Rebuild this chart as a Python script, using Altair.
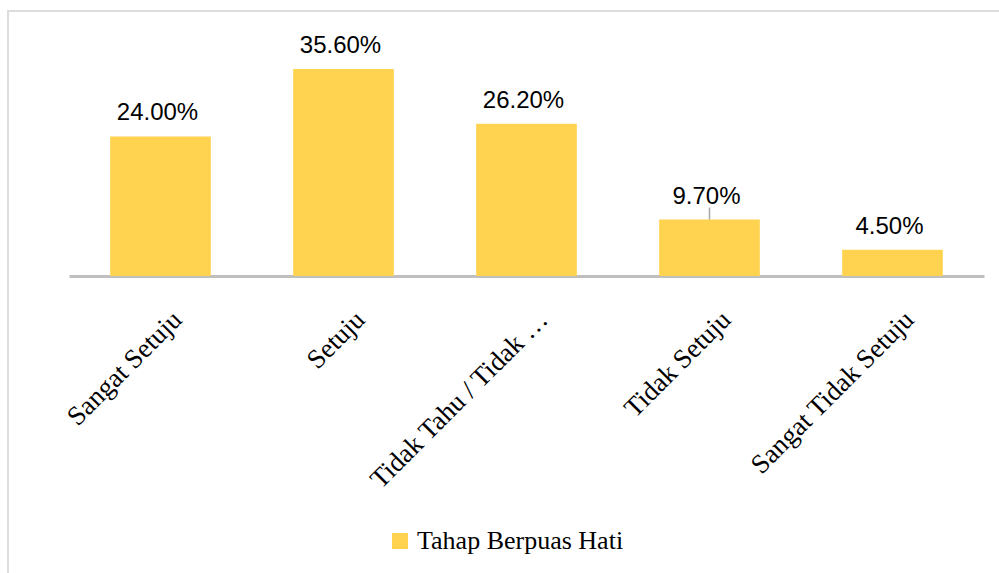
import altair as alt
import pandas as pd

categories = ["Sangat Setuju", "Setuju", "Tidak Tahu / Tidak …", "Tidak Setuju", "Sangat Tidak Setuju"]
values = [24.0, 35.6, 26.2, 9.7, 4.5]
labels = ["24.00%", "35.60%", "26.20%", "9.70%", "4.50%"]
leader = [False, False, False, True, False]
series_name = "Tahap Berpuas Hati"

df = pd.DataFrame({
    "cat": categories,
    "val": values,
    "label": labels,
    "leader": leader,
    "series": [series_name] * len(categories),
})

FONT = "Liberation Serif"
SANS = "Liberation Sans"
COLOR = "#FFD24F"

x = alt.X("cat:N", sort=categories, title=None,
          scale=alt.Scale(paddingInner=0.45, paddingOuter=0.225),
          axis=alt.Axis(labelAngle=-45, labelFont=FONT, labelFontSize=27, labelColor="#000000",
                        labelPadding=30, labelOffset=8, ticks=False, domainColor="#BFBFBF",
                        domainWidth=3, labelLimit=400))
y = alt.Y("val:Q", scale=alt.Scale(domain=[0, 40.6], nice=False), axis=None)

frame = alt.Chart(df).mark_rect(fill=None, stroke="#DDDDDD", strokeWidth=2).encode(
    x=alt.value(-61), x2=alt.value(960), y=alt.value(-29), y2=alt.value(560)
)

bars = alt.Chart(df).mark_bar(color=COLOR).encode(
    x=x, y=y,
    color=alt.Color("series:N", scale=alt.Scale(range=[COLOR]), title=None,
                    legend=alt.Legend(orient="none", legendX=318, legendY=488,
                                      symbolType="square", symbolSize=256,
                                      symbolStrokeWidth=0, labelFont=FONT,
                                      labelFontSize=26, labelColor="#000000",
                                      labelLimit=400))
)

text = alt.Chart(df).mark_text(font=SANS, fontSize=24, color="#000000", dy=-16, dx=-3,
                               baseline="alphabetic").encode(
    x=alt.X("cat:N", sort=categories), y="val:Q", text="label:N"
)

lead = alt.Chart(df).transform_filter("datum.leader").mark_rule(
    color="#A6A6A6", strokeWidth=1.5, y2Offset=-12
).encode(x=alt.X("cat:N", sort=categories), y="val:Q", y2="val:Q")

chart = alt.layer(frame, bars, lead, text).properties(
    width=915, height=236,
    background="white",
    autosize=alt.AutoSizeParams(type="none"),
    padding={"left": 69, "top": 40, "right": 15, "bottom": 297},
).configure_view(strokeWidth=0, stroke=None)

chart.save("out.html", embed_options={"renderer": "svg", "actions": False})
